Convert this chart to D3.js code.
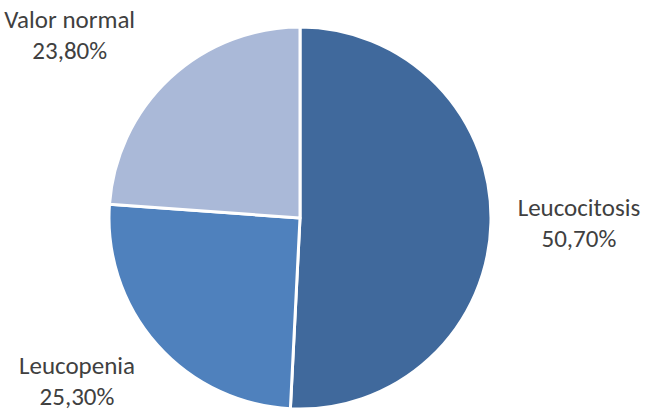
<!DOCTYPE html>
<html>
<head>
<meta charset="utf-8">
<script src="https://cdn.jsdelivr.net/npm/d3@7"></script>
<style>
  body { margin: 0; background: #fff; }
  .sliceLabel { font-family: Carlito, Calibri, Lato, sans-serif; font-size: 25px; fill: #404040; }
</style>
</head>
<body>
<div id="chartDiv"></div>
<script>
// data
const categories = ["Leucocitosis", "Leucopenia", "Valor normal"];
const values = [50.7, 25.3, 23.8];
const valueLabels = ["50,70%", "25,30%", "23,80%"];
const colors = ["#40699C", "#4F81BD", "#AAB9D8"];

// layout
const W = 646, H = 412;
const cx = 300, cy = 218, radius = 191;
const labelRadius = 275;
// nudge labels from the outer centroid, like excel does
const labelNudge = [[4, -9], [-17, -26], [-43, 11]];

const pieData = categories.map((c, i) => ({ keyname: c, val: values[i], txt: valueLabels[i] }));

const svgObj = d3.select("#chartDiv").append("svg")
  .attr("width", W)
  .attr("height", H);

const pieG = svgObj.append("g")
  .attr("transform", `translate(${cx},${cy})`);

const pieFn = d3.pie().sort(null).value(d => d.val);
const arcFn = d3.arc().innerRadius(0).outerRadius(radius);
const labelArc = d3.arc().innerRadius(labelRadius).outerRadius(labelRadius);

const slices = pieFn(pieData);

pieG.selectAll("path")
  .data(slices)
  .enter().append("path")
  .attr("d", arcFn)
  .attr("fill", (d, i) => colors[i])
  .attr("stroke", "#fff")
  .attr("stroke-width", 3)
  .attr("stroke-linejoin", "round");

const labels = pieG.selectAll("text")
  .data(slices)
  .enter().append("text")
  .attr("class", "sliceLabel")
  .attr("text-anchor", "middle")
  .attr("transform", (d, i) => {
    const c = labelArc.centroid(d);
    return `translate(${c[0] + labelNudge[i][0]},${c[1] + labelNudge[i][1]})`;
  });

labels.append("tspan")
  .attr("x", 0).attr("y", 0)
  .text(d => d.data.keyname);
labels.append("tspan")
  .attr("x", 0).attr("y", 31)
  .text(d => d.data.txt);
</script>
</body>
</html>
